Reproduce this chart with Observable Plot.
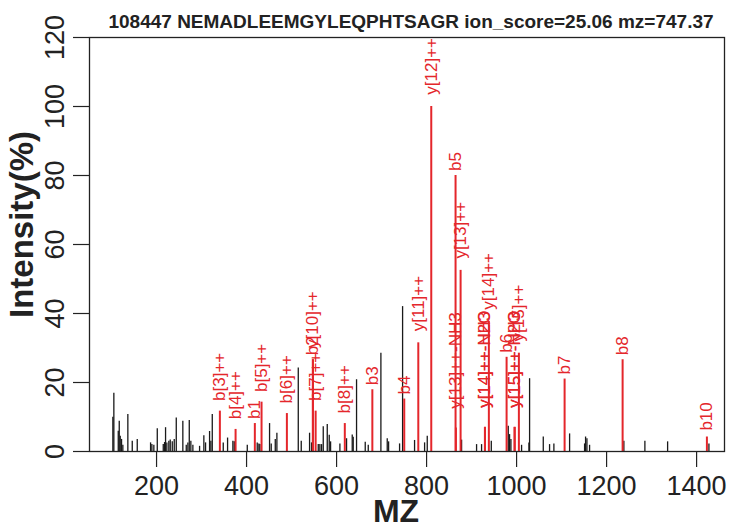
<!DOCTYPE html>
<html><head><meta charset="utf-8">
<script src="https://cdn.jsdelivr.net/npm/d3@7"></script>
<script src="https://cdn.jsdelivr.net/npm/@observablehq/plot@0.6"></script>
<style>body{margin:0;background:#fff} svg{display:block}</style>
</head><body><div id="chart"></div>
<script>
const title = "108447 NEMADLEEMGYLEQPHTSAGR ion_score=25.06 mz=747.37";
const xLabel = "MZ";
const yLabel = "Intensity(%)";
const xTicks = [200, 400, 600, 800, 1000, 1200, 1400];
const yTicks = [0, 20, 40, 60, 80, 100, 120];

// unannotated peaks (black)
const peakMz = [102.9,105.1,114.9,117.1,119.3,122.2,125.1,136.2,146.0,157.1,186.7,189.6,194.0,201.6,214.9,217.8,220.0,222.9,227.3,230.4,234.9,239.3,243.8,258.4,266.0,269.6,272.7,276.2,280.7,295.6,305.1,308.9,317.8,320.7,323.8,348.2,357.8,369.6,372.7,401.6,423.7,427.4,429.6,451.1,454.8,463.8,467.4,514.9,521.5,540.0,544.4,559.3,562.9,566.7,570.4,579.3,583.7,586.7,607.4,622.2,634.8,637.0,644.4,663.7,670.4,698.5,712.6,715.6,740.0,746.7,773.3,795.6,801.5,877.8,911.1,922.2,943.8,981.5,984.4,987.4,1011.1,1027.4,1028.9,1059.3,1073.3,1082.9,1117.8,1151.1,1153.3,1156.3,1162.2,1238.4,1285.1,1335.6,1427.4];
const peakIntensity = [9.9,16.9,5.9,8.8,4.4,3.5,1.8,10.7,3.0,3.5,2.5,2.0,1.8,6.6,2.0,2.6,6.9,2.5,3.0,3.3,2.8,3.5,9.7,8.8,1.8,2.5,9.0,3.0,1.8,1.5,4.6,2.5,5.8,3.0,10.7,2.5,3.9,3.0,2.8,1.8,2.5,2.2,2.0,8.1,2.2,3.5,5.3,24.2,3.0,5.3,2.5,2.0,2.0,2.0,7.2,7.8,4.7,2.8,2.2,3.7,4.8,4.1,20.8,2.7,1.8,28.5,3.7,2.8,2.2,42.0,3.2,2.5,4.4,3.3,2.0,2.0,3.0,7.3,4.9,3.5,1.8,2.5,21.1,4.2,2.0,2.2,5.1,2.2,4.2,3.7,1.8,3.0,3.0,2.8,2.2];

// annotated fragment ions (red)
const ionMz = [340.7,375.6,418.4,433.3,489.6,547.4,547.4,553.5,618.3,679.5,750.4,781.6,810.4,864.4,865.2,875.6,929.6,929.8,938.4,977.8,995.6,995.8,1005.1,1106.7,1235.6,1422.9];
const ionIntensity = [11.7,6.4,8.1,14.3,11.0,26.6,26.6,11.7,8.1,17.9,15.2,31.5,100,80.0,6.8,52.5,7.0,7.0,37.7,27.3,7.0,7.0,28.5,21.0,26.6,4.2];
const ionLabels = ["b[3]++","b[4]++","b1","b[5]++","b[6]++","b2","y[10]++","b[7]++","b[8]++","b3","b4","y[11]++","y[12]++","b5","y[13]++-NH3","y[13]++","y[14]++-NH3","y[14]++-H2O","y[14]++","b6","y[15]++-NH3","y[15]++-H2O","y[15]++","b7","b8","b10"];

const peaks = peakMz.map((mz, i) => ({mz, intensity: peakIntensity[i]}));
const ions = ionMz.map((mz, i) => ({mz, intensity: ionIntensity[i], label: ionLabels[i]}));

const W = 733, H = 527;
const margin = {top: 37, right: 9, bottom: 76, left: 89};
const font = "Liberation Sans, Arial, Helvetica, sans-serif";
const red = "#e4262b";
const ink = "#222";
const labelSize = 17;

// label start offset grows with label length (like R adj < 0)
const ctx = document.createElement("canvas").getContext("2d");
ctx.font = `${labelSize}px ${font}`;
const ppu = (H - margin.top - margin.bottom) / 120;
const labelY = d => d.intensity + (1 + 0.19 * ctx.measureText(d.label).width) / ppu;

const chart = Plot.plot({
  width: W, height: H,
  marginTop: margin.top, marginRight: margin.right, marginBottom: margin.bottom, marginLeft: margin.left,
  style: {fontFamily: font, background: "#fff", color: ink, overflow: "visible"},
  x: {domain: [51, 1462]},
  y: {domain: [0, 120]},
  marks: [
    Plot.ruleX(peaks, {x: "mz", y1: 0, y2: "intensity", stroke: "#1a1a1a", strokeWidth: 1.3}),
    Plot.ruleX(ions, {x: "mz", y1: 0, y2: "intensity", stroke: red, strokeWidth: 2}),
    Plot.frame({stroke: ink, strokeWidth: 1.3}),
    Plot.axisX(xTicks, {tickSize: 16, tickPadding: 8, fontSize: 27, label: null, tickFormat: d => String(d), stroke: ink, fill: ink, strokeWidth: 1.2}),
    Plot.axisY(yTicks, {tickSize: 16, tickPadding: 10, tickRotate: -90, fontSize: 27, label: null, tickFormat: d => String(d), stroke: ink, fill: ink, strokeWidth: 1.2}),
    Plot.text(ions, {x: "mz", y: labelY, text: "label", rotate: -90, textAnchor: "start", lineAnchor: "middle", fill: red, fontSize: labelSize}),
    Plot.text([title], {frameAnchor: "top", dx: 4, dy: -10, lineAnchor: "bottom", fontWeight: "bold", fontSize: 19, fill: ink}),
    Plot.text([xLabel], {frameAnchor: "bottom", dx: -11, dy: 70, lineAnchor: "bottom", fontWeight: "bold", fontSize: 32, fill: ink}),
    Plot.text([yLabel], {frameAnchor: "left", dx: -57, dy: -20, rotate: -90, textAnchor: "middle", lineAnchor: "bottom", fontWeight: "bold", fontSize: 33, fill: ink})
  ]
});
document.getElementById("chart").appendChild(chart);
</script>
</body></html>
